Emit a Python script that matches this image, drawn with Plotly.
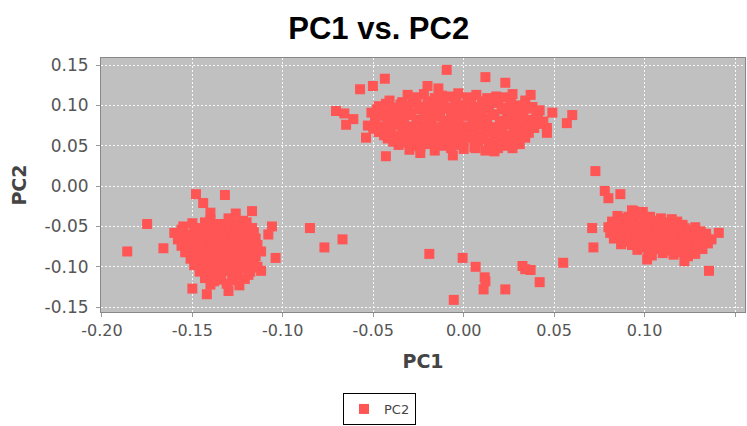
import plotly.graph_objects as go

# ---- data (PC1, PC2) ----
top_cluster = [
    (-0.0094, 0.144), (-0.0573, 0.120), (-0.0502, 0.124), (-0.0436, 0.133),
    (-0.0706, 0.093), (-0.066, 0.090), (-0.065, 0.076), (-0.061, 0.083),
    (-0.054, 0.060), (-0.043, 0.037), (-0.024, 0.041), (-0.006, 0.038),
    (0.0066, 0.047), (0.017, 0.043), (0.012, 0.135), (0.023, 0.128),
    (0.037, 0.113), (0.060, 0.088), (0.057, 0.078), (0.046, 0.072),
    (0.042, 0.094), (0.049, 0.091), (-0.020, 0.124), (-0.014, 0.121),
    (-0.031, 0.113), (-0.022, 0.114), (-0.012, 0.112), (-0.003, 0.115), (0.007, 0.113), (0.018, 0.111), (0.027, 0.114),
    (-0.041, 0.106), (-0.034, 0.104), (-0.027, 0.107), (-0.019, 0.105), (-0.011, 0.106), (-0.004, 0.104),
    (0.004, 0.107), (0.011, 0.105), (0.019, 0.106), (0.026, 0.104), (0.034, 0.106),
    (-0.047, 0.099), (-0.039, 0.097), (-0.031, 0.100), (-0.024, 0.098), (-0.016, 0.099), (-0.009, 0.097),
    (-0.001, 0.100), (0.007, 0.098), (0.014, 0.099), (0.022, 0.097), (0.030, 0.100), (0.038, 0.098),
    (-0.051, 0.091), (-0.044, 0.090), (-0.036, 0.092), (-0.029, 0.090), (-0.021, 0.091), (-0.013, 0.089),
    (-0.006, 0.092), (0.002, 0.090), (0.010, 0.091), (0.017, 0.089), (0.025, 0.092), (0.033, 0.090), (0.041, 0.088),
    (-0.049, 0.083), (-0.041, 0.082), (-0.033, 0.084), (-0.026, 0.082), (-0.018, 0.083), (-0.010, 0.081),
    (-0.003, 0.084), (0.005, 0.082), (0.013, 0.083), (0.020, 0.081), (0.028, 0.084), (0.036, 0.082), (0.044, 0.080),
    (-0.053, 0.075), (-0.045, 0.074), (-0.038, 0.076), (-0.030, 0.074), (-0.022, 0.075), (-0.015, 0.073),
    (-0.007, 0.076), (0.001, 0.074), (0.008, 0.075), (0.016, 0.073), (0.024, 0.076), (0.031, 0.074), (0.039, 0.072), (0.046, 0.066),
    (-0.047, 0.067), (-0.040, 0.066), (-0.032, 0.068), (-0.025, 0.066), (-0.017, 0.067), (-0.009, 0.065),
    (-0.002, 0.068), (0.006, 0.066), (0.013, 0.067), (0.021, 0.065), (0.029, 0.068), (0.036, 0.066),
    (-0.042, 0.059), (-0.034, 0.058), (-0.027, 0.060), (-0.019, 0.058), (-0.012, 0.059), (-0.004, 0.057),
    (0.004, 0.060), (0.011, 0.058), (0.019, 0.059), (0.027, 0.057), (0.034, 0.060),
    (-0.036, 0.051), (-0.028, 0.050), (-0.020, 0.052), (-0.011, 0.050), (-0.003, 0.051), (0.006, 0.049),
    (0.014, 0.052), (0.023, 0.050), (0.031, 0.052),
    (-0.030, 0.045), (-0.016, 0.044), (0.000, 0.046), (0.012, 0.044), (0.027, 0.047),
]

top_fill = [
    (-0.026, 0.110), (-0.016, 0.109), (-0.007, 0.111), (0.002, 0.110), (0.013, 0.109), (0.022, 0.110),
    (-0.043, 0.102), (-0.035, 0.101), (-0.028, 0.103), (-0.020, 0.102), (-0.012, 0.101), (-0.005, 0.103),
    (0.003, 0.102), (0.010, 0.101), (0.018, 0.103), (0.026, 0.102), (0.034, 0.101),
    (-0.048, 0.095), (-0.040, 0.094), (-0.032, 0.096), (-0.025, 0.095), (-0.017, 0.094), (-0.010, 0.096),
    (-0.002, 0.095), (0.006, 0.094), (0.013, 0.096), (0.021, 0.095), (0.029, 0.094), (0.037, 0.096),
    (-0.045, 0.087), (-0.037, 0.086), (-0.030, 0.088), (-0.022, 0.087), (-0.014, 0.086), (-0.007, 0.088),
    (0.001, 0.087), (0.009, 0.086), (0.016, 0.088), (0.024, 0.087), (0.032, 0.086), (0.040, 0.084),
    (-0.049, 0.079), (-0.042, 0.078), (-0.034, 0.080), (-0.026, 0.079), (-0.019, 0.078), (-0.011, 0.080),
    (-0.003, 0.079), (0.005, 0.078), (0.012, 0.080), (0.020, 0.079), (0.028, 0.078), (0.035, 0.080), (0.042, 0.077),
    (-0.050, 0.071), (-0.042, 0.070), (-0.034, 0.072), (-0.026, 0.071), (-0.019, 0.070), (-0.011, 0.072),
    (-0.003, 0.071), (0.004, 0.070), (0.012, 0.072), (0.020, 0.071), (0.028, 0.070), (0.035, 0.072),
    (-0.044, 0.063), (-0.036, 0.062), (-0.029, 0.064), (-0.021, 0.063), (-0.013, 0.062), (-0.006, 0.064),
    (0.002, 0.063), (0.010, 0.062), (0.017, 0.064), (0.025, 0.063), (0.032, 0.062),
    (-0.039, 0.055), (-0.031, 0.054), (-0.024, 0.056), (-0.016, 0.055), (-0.008, 0.054), (0.000, 0.056),
    (0.008, 0.055), (0.016, 0.054), (0.024, 0.056),
    (-0.024, 0.048), (-0.007, 0.047), (0.006, 0.048), (0.019, 0.047),
]

left_cluster = [
    (-0.148, -0.010), (-0.132, -0.011), (-0.144, -0.021), (-0.140, -0.033),
    (-0.175, -0.047), (-0.186, -0.081), (-0.104, -0.089), (-0.106, -0.050),
    (-0.117, -0.031), (-0.142, -0.134), (-0.130, -0.130), (-0.150, -0.127),
    (-0.112, -0.105), (-0.166, -0.077), (-0.108, -0.060),
    (-0.140, -0.042), (-0.130, -0.040), (-0.122, -0.043), (-0.126, -0.034),
    (-0.155, -0.050), (-0.147, -0.052), (-0.139, -0.049), (-0.132, -0.051), (-0.124, -0.050), (-0.117, -0.052),
    (-0.160, -0.058), (-0.152, -0.060), (-0.145, -0.057), (-0.138, -0.059), (-0.131, -0.058), (-0.124, -0.060), (-0.116, -0.057),
    (-0.158, -0.066), (-0.151, -0.068), (-0.144, -0.065), (-0.137, -0.067), (-0.130, -0.066), (-0.123, -0.068), (-0.115, -0.065),
    (-0.156, -0.074), (-0.149, -0.076), (-0.142, -0.073), (-0.135, -0.075), (-0.128, -0.074), (-0.121, -0.076), (-0.114, -0.073),
    (-0.154, -0.082), (-0.147, -0.084), (-0.140, -0.081), (-0.133, -0.083), (-0.126, -0.082), (-0.119, -0.084), (-0.112, -0.081),
    (-0.151, -0.090), (-0.144, -0.092), (-0.137, -0.089), (-0.130, -0.091), (-0.123, -0.090), (-0.116, -0.092),
    (-0.149, -0.098), (-0.142, -0.100), (-0.135, -0.097), (-0.128, -0.099), (-0.121, -0.098), (-0.114, -0.100),
    (-0.146, -0.106), (-0.139, -0.108), (-0.132, -0.105), (-0.125, -0.107), (-0.118, -0.106),
    (-0.143, -0.114), (-0.136, -0.116), (-0.128, -0.113), (-0.121, -0.115),
    (-0.140, -0.122), (-0.131, -0.121), (-0.124, -0.123),
]

left_fill = [
    (-0.150, -0.046), (-0.143, -0.045), (-0.135, -0.047), (-0.127, -0.046), (-0.120, -0.045),
    (-0.156, -0.054), (-0.149, -0.053), (-0.142, -0.055), (-0.135, -0.054), (-0.128, -0.053), (-0.120, -0.055),
    (-0.155, -0.062), (-0.148, -0.061), (-0.141, -0.063), (-0.134, -0.062), (-0.127, -0.061), (-0.119, -0.063),
    (-0.153, -0.070), (-0.146, -0.069), (-0.139, -0.071), (-0.132, -0.070), (-0.125, -0.069), (-0.118, -0.071),
    (-0.152, -0.078), (-0.145, -0.077), (-0.138, -0.079), (-0.131, -0.078), (-0.124, -0.077), (-0.117, -0.079),
    (-0.150, -0.086), (-0.143, -0.085), (-0.136, -0.087), (-0.129, -0.086), (-0.122, -0.085), (-0.115, -0.087),
    (-0.147, -0.094), (-0.140, -0.093), (-0.133, -0.095), (-0.126, -0.094), (-0.119, -0.093),
    (-0.145, -0.102), (-0.138, -0.101), (-0.131, -0.103), (-0.124, -0.102), (-0.117, -0.101),
    (-0.141, -0.110), (-0.134, -0.109), (-0.126, -0.111), (-0.119, -0.110),
    (-0.138, -0.118), (-0.127, -0.117),
]

middle_points = [
    (-0.085, -0.052), (-0.077, -0.076), (-0.067, -0.066),
    (-0.019, -0.084), (-0.0006, -0.089), (0.0066, -0.100), (0.0116, -0.113),
    (0.012, -0.118), (0.011, -0.128), (-0.0055, -0.141), (0.023, -0.128),
    (0.0325, -0.099), (0.034, -0.103), (0.037, -0.104), (0.042, -0.119),
    (0.055, -0.095),
]

right_cluster = [
    (0.0728, 0.0186), (0.078, -0.006), (0.080, -0.015), (0.0866, -0.010),
    (0.071, -0.052), (0.0717, -0.076), (0.1356, -0.105), (0.141, -0.058),
    (0.1014, -0.091), (0.122, -0.093), (0.094, -0.031),
    (0.093, -0.030), (0.099, -0.032),
    (0.085, -0.037), (0.091, -0.038), (0.097, -0.036), (0.103, -0.038),
    (0.082, -0.044), (0.088, -0.045), (0.094, -0.043), (0.100, -0.045), (0.106, -0.043), (0.112, -0.045), (0.118, -0.044),
    (0.080, -0.051), (0.086, -0.052), (0.092, -0.050), (0.098, -0.052), (0.104, -0.050), (0.110, -0.052),
    (0.116, -0.050), (0.122, -0.052), (0.128, -0.051),
    (0.081, -0.058), (0.087, -0.059), (0.093, -0.057), (0.099, -0.059), (0.105, -0.057), (0.111, -0.059),
    (0.117, -0.057), (0.123, -0.059), (0.129, -0.057), (0.134, -0.059),
    (0.083, -0.065), (0.089, -0.066), (0.095, -0.064), (0.101, -0.066), (0.107, -0.064), (0.113, -0.066),
    (0.119, -0.064), (0.125, -0.066), (0.131, -0.064), (0.137, -0.066),
    (0.087, -0.072), (0.093, -0.073), (0.099, -0.071), (0.105, -0.073), (0.111, -0.071), (0.117, -0.073),
    (0.123, -0.071), (0.129, -0.073), (0.135, -0.071),
    (0.096, -0.079), (0.102, -0.080), (0.108, -0.078), (0.114, -0.080), (0.120, -0.078), (0.126, -0.080), (0.132, -0.078),
    (0.104, -0.086), (0.116, -0.085), (0.124, -0.087),
]

right_fill = [
    (0.088, -0.040), (0.094, -0.041), (0.100, -0.039), (0.109, -0.040), (0.115, -0.041),
    (0.085, -0.048), (0.091, -0.047), (0.097, -0.049), (0.103, -0.048), (0.109, -0.047), (0.115, -0.049), (0.121, -0.048),
    (0.083, -0.055), (0.089, -0.054), (0.095, -0.056), (0.101, -0.055), (0.107, -0.054), (0.113, -0.056),
    (0.119, -0.055), (0.125, -0.054), (0.131, -0.056),
    (0.086, -0.062), (0.092, -0.061), (0.098, -0.063), (0.104, -0.062), (0.110, -0.061), (0.116, -0.063),
    (0.122, -0.062), (0.128, -0.061), (0.134, -0.063),
    (0.090, -0.069), (0.096, -0.068), (0.102, -0.070), (0.108, -0.069), (0.114, -0.068), (0.120, -0.070),
    (0.126, -0.069), (0.132, -0.068),
    (0.099, -0.076), (0.105, -0.075), (0.111, -0.077), (0.117, -0.076), (0.123, -0.075), (0.129, -0.077),
    (0.110, -0.083), (0.120, -0.082), (0.128, -0.084),
]

all_points = (top_cluster + top_fill + left_cluster + left_fill
              + middle_points + right_cluster + right_fill)
pc1 = [p[0] for p in all_points]
pc2 = [p[1] for p in all_points]

xtick_vals = [-0.20, -0.15, -0.10, -0.05, 0.00, 0.05, 0.10, 0.15]
xtick_text = ["-0.20", "-0.15", "-0.10", "-0.05", "0.00", "0.05", "0.10", "0.15"]
ytick_vals = [-0.15, -0.10, -0.05, 0.00, 0.05, 0.10, 0.15]
ytick_text = ["-0.15", "-0.10", "-0.05", "0.00", "0.05", "0.10", "0.15"]

fig = go.Figure()
fig.add_trace(go.Scatter(
    x=pc1, y=pc2, mode="markers", name="PC2",
    marker=dict(symbol="square", size=10, color="#FF5555", line=dict(width=0)),
))

axis_common = dict(
    showgrid=True, gridcolor="rgba(255,255,255,0.9)", griddash="2px,2px", gridwidth=1,
    zeroline=False, showline=True, linecolor="#888888", mirror=True, linewidth=1,
    ticks="outside", ticklen=4, tickcolor="#999999", automargin=False,
)

fig.update_layout(
    width=747, height=426,
    margin=dict(l=101, r=2, t=58, b=114, autoexpand=False),
    paper_bgcolor="white", plot_bgcolor="#C0C0C0",
    title=dict(text="<b>PC1 vs. PC2</b>", x=0.507, xref="container", xanchor="center",
               y=0.934, yref="container", yanchor="middle",
               font=dict(family="Liberation Sans", size=31, color="black")),
    xaxis=dict(range=[-0.2005, 0.1555], tickvals=xtick_vals, ticktext=xtick_text,
               tickfont=dict(family="DejaVu Sans", size=16, color="#555555"),
               title=dict(text="<b>PC1</b>", font=dict(family="DejaVu Sans", size=19, color="#444444"), standoff=15),
               **axis_common),
    yaxis=dict(range=[-0.156, 0.1587], tickvals=ytick_vals, ticktext=ytick_text,
               tickfont=dict(family="DejaVu Sans", size=17, color="#555555"),
               ticklabelstandoff=4,
               title=dict(text="<b>PC2</b>", font=dict(family="DejaVu Sans", size=19, color="#444444"), standoff=12),
               **axis_common),
    showlegend=True,
    legend=dict(orientation="h", x=343 / 747, xref="container", xanchor="left",
                y=1 - 393 / 426, yref="container", yanchor="top",
                bordercolor="black", borderwidth=1, bgcolor="white",
                itemwidth=30,
                font=dict(family="DejaVu Sans", size=13, color="#444444")),
)

fig.write_html("out.html", config={"displayModeBar": False},
               post_script="document.body.style.margin='0';document.body.style.overflow='hidden';")
